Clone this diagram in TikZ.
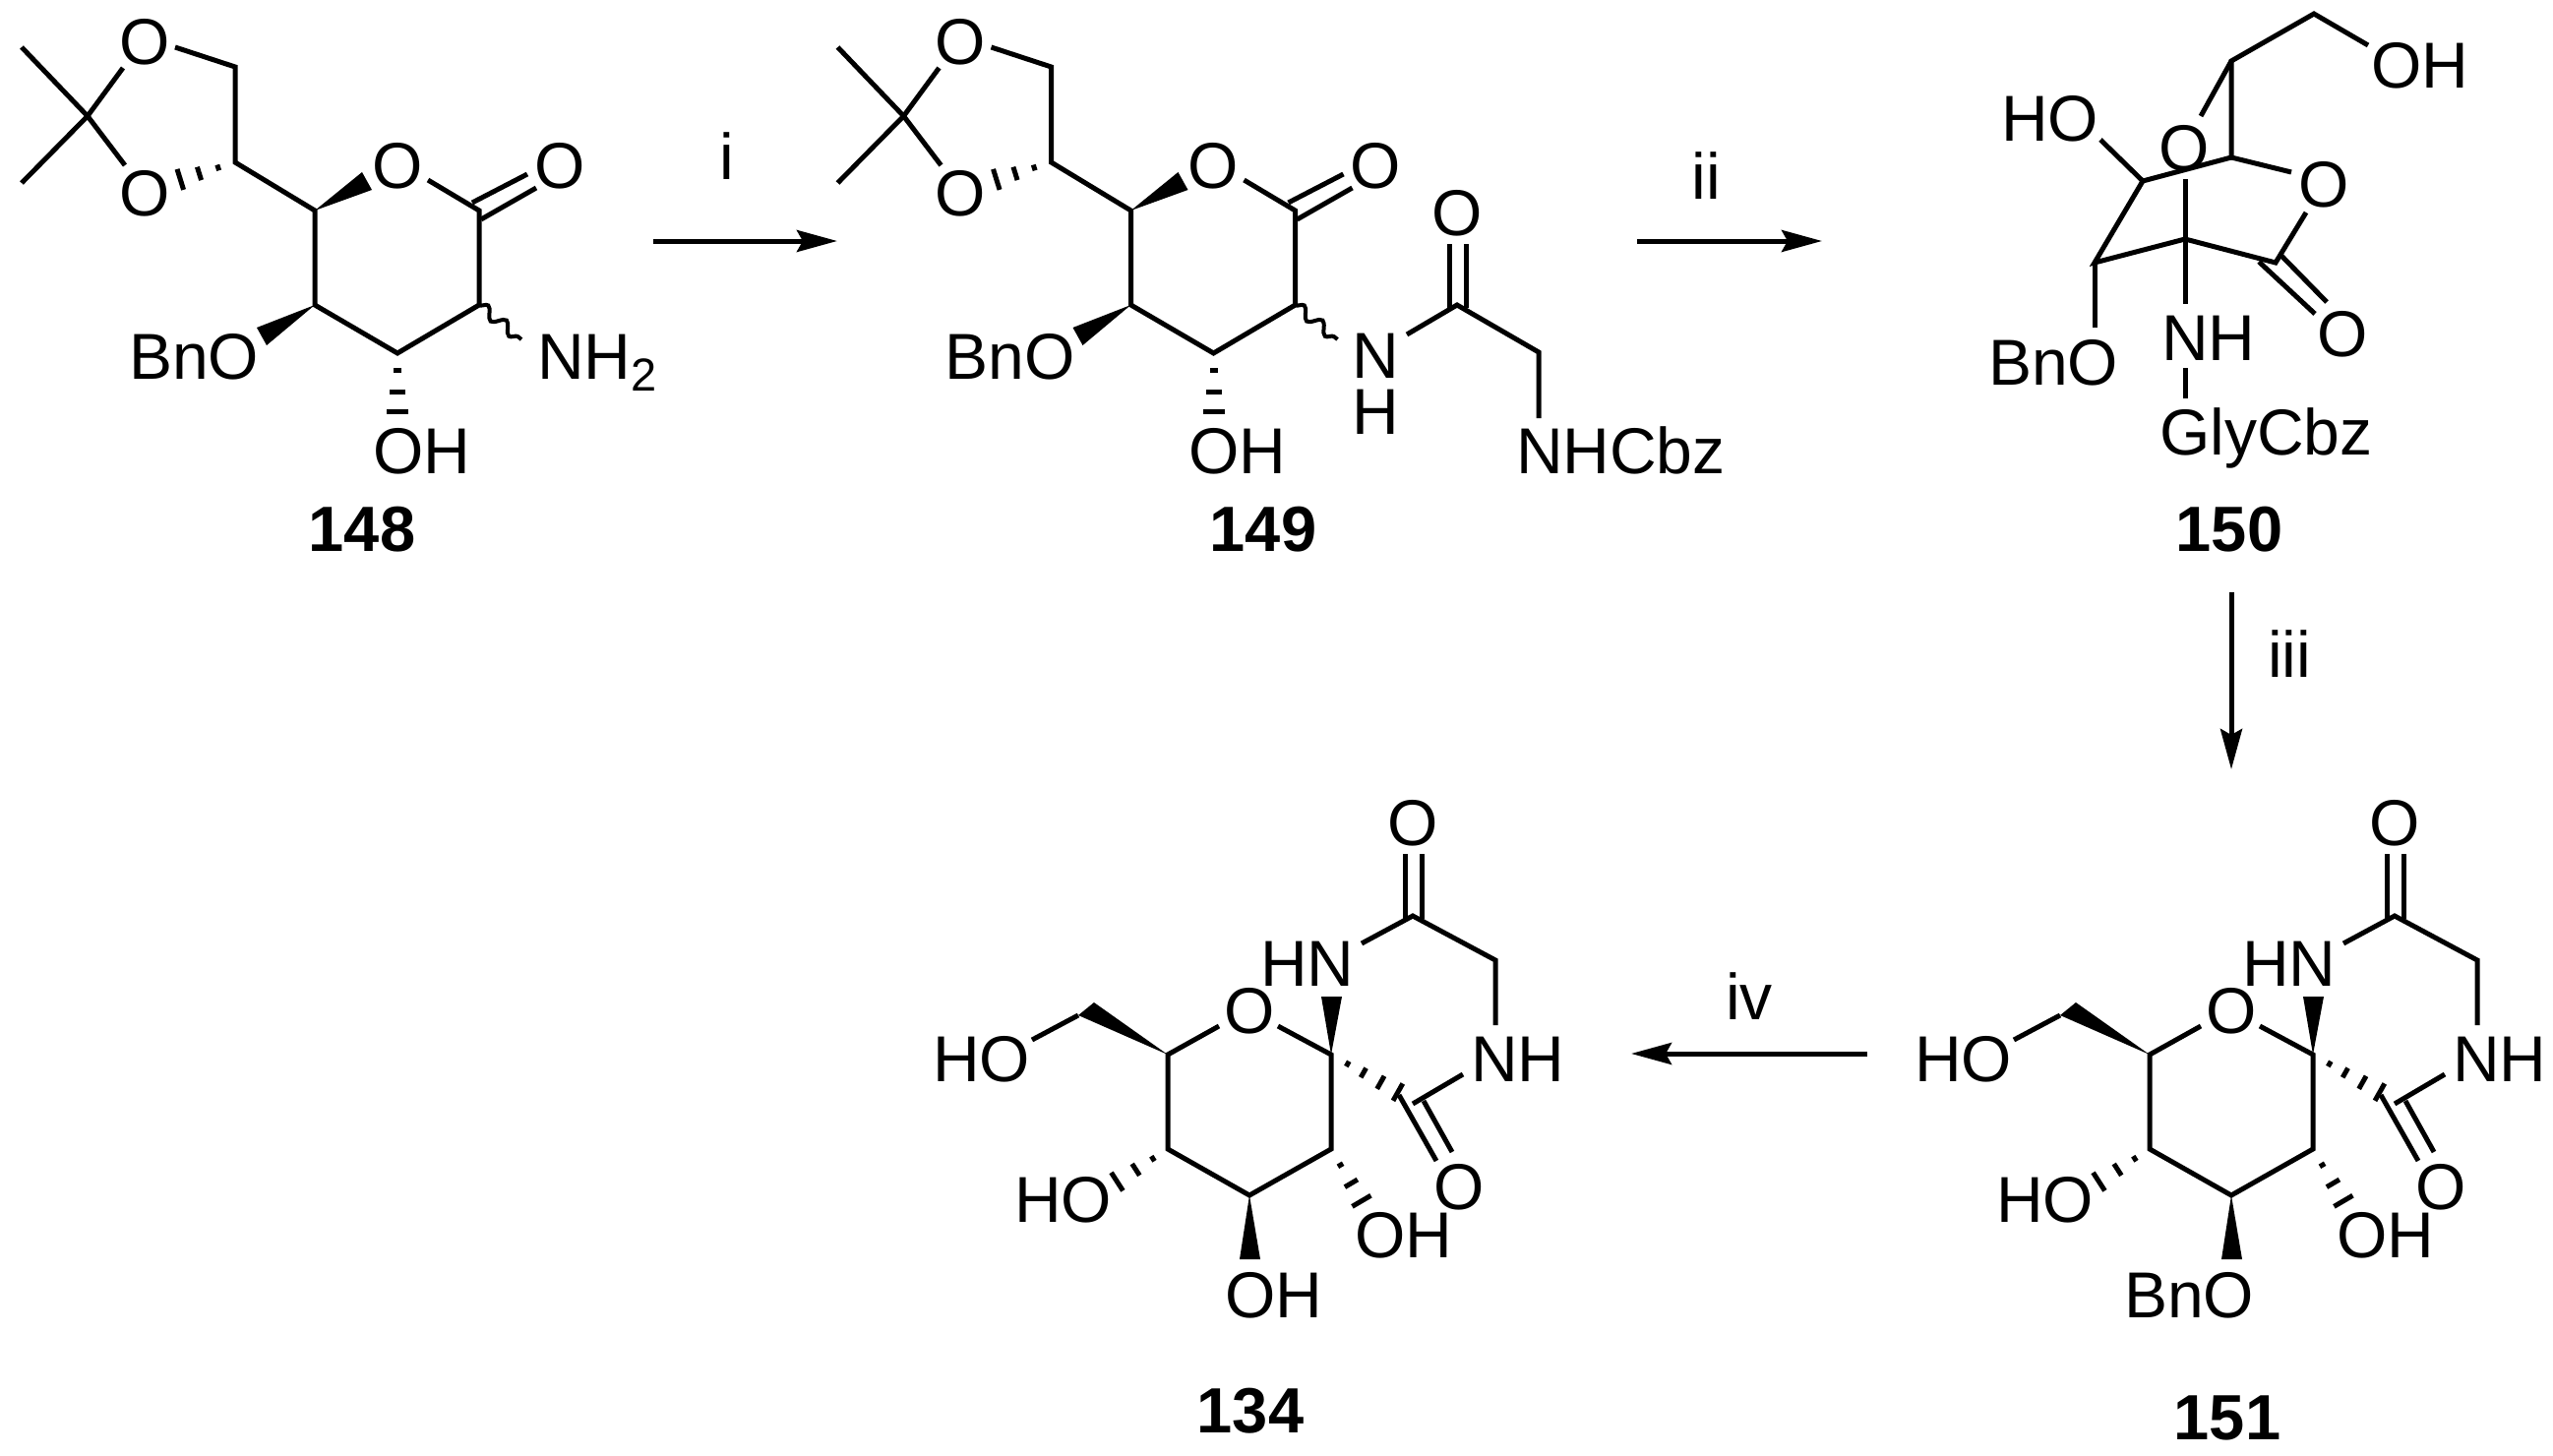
\documentclass[tikz,border=0pt]{standalone}
\usepackage{fontspec}
\setmainfont{Liberation Sans}
\usetikzlibrary{arrows.meta,calc,decorations.pathmorphing}
\tikzset{
  atom/.style={inner sep=0pt,outer sep=0pt,font=\fontsize{66}{57}\selectfont},
  cpd/.style={inner sep=0pt,outer sep=0pt,anchor=base,font=\fontsize{65}{65}\selectfont\bfseries},
  bond/.style={draw=black,line width=5pt,line cap=butt,line join=miter},
  hash/.style={draw=black,line width=5pt},
  wavy/.style={draw=black,line width=4pt,decorate,decoration={snake,segment length=24pt,amplitude=5.5pt}},
  rxn/.style={draw=black,line width=5pt,-{Stealth[length=41pt,width=22pt,inset=6pt]}}
}
\newcommand{\hashb}[3]{\foreach \t/\w in {#3}{\draw[hash] ($(#1)!\t!(#2)!\w pt!90:(#2)$) -- ($(#1)!\t!(#2)!\w pt!-90:(#2)$);}}
\newcommand{\wedgeb}[3]{\fill[black] (#1) -- (#2) -- (#3) -- cycle;}
% lactone fragment shared by 148 and 149
\newcommand{\lactone}{
  \coordinate (me1) at (22,48); \coordinate (me2) at (22,186);
  \coordinate (cq) at (89,118);
  \coordinate (o1a) at (125,69); \coordinate (o1b) at (178,48);
  \coordinate (o2a) at (127,168);
  \coordinate (ch2) at (239,68); \coordinate (ch) at (239,165);
  \coordinate (c5) at (320,214); \coordinate (c4) at (320,310);
  \coordinate (c3) at (404,359); \coordinate (c2) at (487,310);
  \coordinate (c1) at (487,214); \coordinate (roe) at (435,183);
  \coordinate (wa) at (368,175); \coordinate (wb) at (378,193);
  \coordinate (wc) at (261,333); \coordinate (wd) at (271,351);
  \coordinate (hoa) at (175,185); \coordinate (hob) at (404,425);
  \coordinate (d1a) at (480,206); \coordinate (d1b) at (536,177);
  \coordinate (d2a) at (489,223); \coordinate (d2b) at (545,191);
  \coordinate (wv) at (530,345);
  \node[atom,anchor=base] (o1) at (147,65.5) {O};
  \node[atom,anchor=base] (o2) at (147,219.5) {O};
  \node[atom,anchor=base] (ro) at (404,191) {O};
  \node[atom,anchor=base] (co) at (569,191) {O};
  \node[atom,anchor=base west] (bno) at (131,385) {BnO};
  \node[atom,anchor=base west] (oh) at (379,481) {OH};
  \draw[bond] (me1) -- (cq) -- (me2);
  \draw[bond] (o2a) -- (cq) -- (o1a);
  \draw[bond] (o1b) -- (ch2) -- (ch) -- (c5) -- (c4) -- (c3) -- (c2) -- (c1) -- (roe);
  \draw[bond] (d1a) -- (d1b);
  \draw[bond] (d2a) -- (d2b);
  \wedgeb{c5}{wa}{wb}
  \wedgeb{c4}{wc}{wd}
  \hashb{ch}{hoa}{0.27/3,0.57/7,0.87/11}
  \hashb{c3}{hob}{0.27/4,0.6/8,0.9/11}
  \draw[wavy] (c2) -- (wv);
}
% spiro fragment shared by 134 and 151; #1 left edge, #2 text of lower substituent
\newcommand{\spiro}[2]{
  \coordinate (cs) at (1353,1072); \coordinate (roa) at (1299,1043);
  \coordinate (rob) at (1239,1043); \coordinate (c5) at (1187,1072);
  \coordinate (c4) at (1187,1168); \coordinate (c3) at (1270,1215);
  \coordinate (c2) at (1353,1168);
  \coordinate (w5a) at (1096,1032); \coordinate (w5b) at (1112,1019);
  \coordinate (ho6) at (1049,1057);
  \coordinate (wna) at (1343,1013); \coordinate (wnb) at (1364,1013);
  \coordinate (wda) at (1260,1280); \coordinate (wdb) at (1281,1280);
  \coordinate (h4) at (1131,1204); \coordinate (h2) at (1387,1226);
  \coordinate (hs) at (1426,1113);
  \coordinate (cam) at (1436,931); \coordinate (hne) at (1384,959);
  \coordinate (gly) at (1520,976); \coordinate (nhe) at (1520,1042);
  \coordinate (dta) at (1428,868); \coordinate (dtb) at (1428,934);
  \coordinate (dtc) at (1445,868); \coordinate (dtd) at (1445,934);
  \coordinate (nhb) at (1487,1092); \coordinate (cco) at (1436,1122);
  \coordinate (dla) at (1422,1113); \coordinate (dlb) at (1460,1180);
  \coordinate (dlc) at (1447,1119); \coordinate (dld) at (1476,1171);
  \node[atom,anchor=base] (oam) at (1436,859) {O};
  \node[atom,anchor=base] (ro) at (1270,1050) {O};
  \node[atom,anchor=base] (olac) at (1483,1229) {O};
  \node[atom,anchor=base west] (hn) at (1281,1002) {HN};
  \node[atom,anchor=base west] (nh) at (1495,1099) {NH};
  \node[atom,anchor=base west] (ho1) at (948,1099) {HO};
  \node[atom,anchor=base west] (ho2) at (1031,1242) {HO};
  \node[atom,anchor=base west] (or) at (1377,1278) {OH};
  \node[atom,anchor=base west] (ob) at (#1,1339) {#2};
  \draw[bond] (rob) -- (c5) -- (c4) -- (c3) -- (c2) -- (cs) -- (roa);
  \draw[bond] (w5a) -- (ho6);
  \draw[bond] (hne) -- (cam) -- (gly) -- (nhe);
  \draw[bond] (dta) -- (dtb);
  \draw[bond] (dtc) -- (dtd);
  \draw[bond] (nhb) -- (cco);
  \draw[bond] (dla) -- (dlb);
  \draw[bond] (dlc) -- (dld);
  \wedgeb{c5}{w5a}{w5b}
  \wedgeb{cs}{wna}{wnb}
  \wedgeb{c3}{wda}{wdb}
  \hashb{c4}{h4}{0.27/3,0.58/7,0.92/11}
  \hashb{c2}{h2}{0.28/3,0.6/7.5,0.91/11}
  \hashb{cs}{hs}{0.23/3,0.45/5.5,0.69/7.5,0.93/10}
}
\begin{document}
\begin{tikzpicture}[x=1pt,y=-1pt]
\useasboundingbox (0,0) rectangle (2595,1480);
% 148
\begin{scope}[name prefix=a-]
  \lactone
  \node[atom,anchor=base west] (nh2) at (546,385) {NH\raisebox{-12pt}{\fontsize{47}{47}\selectfont 2}};
  \node[cpd] (n148) at (368,560) {148};
\end{scope}
% 149
\begin{scope}[shift={(829.5,0)},name prefix=b-]
  \lactone
\end{scope}
\coordinate (nl) at (1430,340); \coordinate (cam) at (1481,310);
\coordinate (gl) at (1564,358); \coordinate (ne) at (1564,425);
\coordinate (da) at (1473,248); \coordinate (db) at (1473,313);
\coordinate (dc) at (1490,248); \coordinate (dd) at (1490,313);
\node[atom,align=center,anchor=south] (bn) at (1398,441) {N\\H};
\node[atom,anchor=base] (bo) at (1481,239) {O};
\node[atom,anchor=base west] (bnh) at (1541,481) {NHCbz};
\node[cpd] (n149) at (1284,560) {149};
\draw[bond] (nl) -- (cam) -- (gl) -- (ne);
\draw[bond] (da) -- (db);
\draw[bond] (dc) -- (dd);
% 150
\begin{scope}[name prefix=c-]
  \coordinate (t) at (2352,14); \coordinate (oe) at (2407,46);
  \coordinate (u) at (2268,62); \coordinate (v) at (2268,160);
  \coordinate (oa) at (2237,118); \coordinate (lo) at (2329,175);
  \coordinate (w) at (2178,184); \coordinate (hoe) at (2135,142);
  \coordinate (x) at (2129,267); \coordinate (y) at (2221,243);
  \coordinate (z) at (2313,267); \coordinate (bo) at (2129,333);
  \coordinate (na) at (2221,182); \coordinate (nb) at (2221,309);
  \coordinate (gc) at (2221,374); \coordinate (gd) at (2221,405);
  \coordinate (oc) at (2344,216);
  \coordinate (da) at (2296,266); \coordinate (db) at (2353,319);
  \coordinate (dc) at (2319,260); \coordinate (dd) at (2365,307);
  \node[atom,anchor=base west] (oh) at (2410,89) {OH};
  \node[atom,anchor=base west] (ho) at (2034,143) {HO};
  \node[atom,anchor=base] (ro) at (2220,173) {O};
  \node[atom,anchor=base] (lac) at (2362,210) {O};
  \node[atom,anchor=base] (dbo) at (2381,362) {O};
  \node[atom,anchor=base west] (bno) at (2021,391) {BnO};
  \node[atom,anchor=base west] (nh) at (2197,366) {NH};
  \node[atom,anchor=base west] (gly) at (2195,462) {GlyCbz};
  \node[cpd] (n150) at (2266,560) {150};
  \draw[bond] (oe) -- (t) -- (u) -- (v) -- (lo);
  \draw[bond] (u) -- (oa);
  \draw[bond] (v) -- (w) -- (hoe);
  \draw[bond] (w) -- (x) -- (y) -- (z) -- (oc);
  \draw[bond] (x) -- (bo);
  \draw[bond] (na) -- (nb);
  \draw[bond] (gc) -- (gd);
  \draw[bond] (da) -- (db);
  \draw[bond] (dc) -- (dd);
\end{scope}
% 134
\begin{scope}[name prefix=d-]
  \spiro{1245}{OH}
  \node[cpd] (n134) at (1271,1456) {134};
\end{scope}
% 151
\begin{scope}[shift={(998,0)},name prefix=e-]
  \spiro{1161}{BnO}
\end{scope}
\node[cpd] (n151) at (2264,1463) {151};
% arrows
\coordinate (r1a) at (664,245); \coordinate (r1b) at (851,245);
\coordinate (r2a) at (1664,245); \coordinate (r2b) at (1852,245);
\coordinate (r3a) at (2268,602); \coordinate (r3b) at (2268,782);
\coordinate (r4a) at (1898,1071); \coordinate (r4b) at (1658,1071);
\draw[rxn] (r1a) -- (r1b);
\draw[rxn] (r2a) -- (r2b);
\draw[rxn] (r3a) -- (r3b);
\draw[rxn] (r4a) -- (r4b);
\node[atom,anchor=base] (l1) at (739,182) {i};
\node[atom,anchor=base] (l2) at (1734,202) {ii};
\node[atom,anchor=base] (l3) at (2327,688) {iii};
\node[atom,anchor=base] (l4) at (1778,1036) {iv};
\end{tikzpicture}
\end{document}
